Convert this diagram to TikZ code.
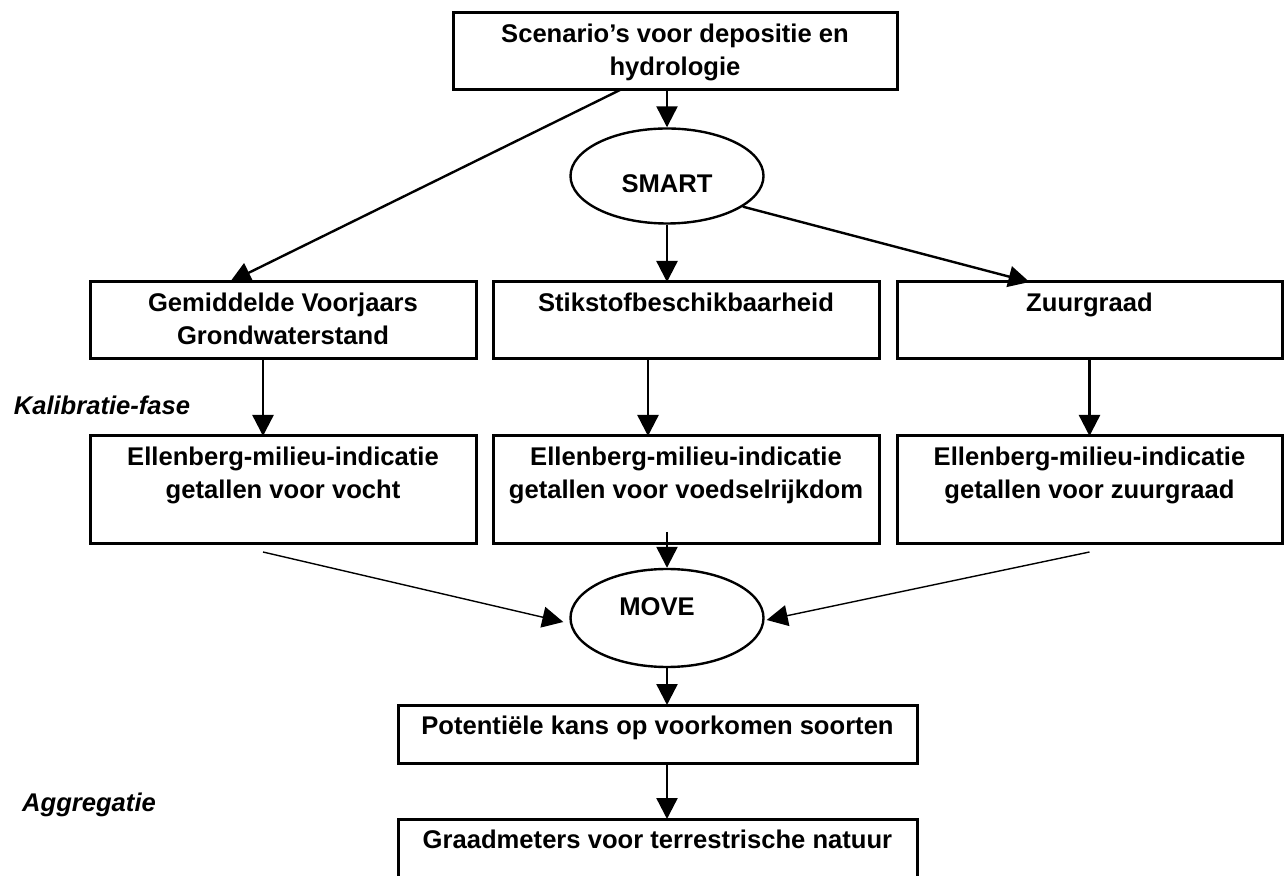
\documentclass[tikz,border=0pt]{standalone}
\usepackage{fontspec}
\setmainfont{Liberation Sans}
\usetikzlibrary{arrows.meta,shapes.geometric,calc}
\begin{document}
\begin{tikzpicture}[x=0.5pt,y=-0.5pt,
  boxst/.style={draw,line width=1.5pt,inner sep=0pt,outer sep=0pt,anchor=north west},
  txt/.style={font=\fontsize{12.8}{16.5}\selectfont\bfseries,align=center,inner sep=0pt,anchor=north},
  ell/.style={draw,ellipse,line width=1.2pt,inner sep=0pt,minimum width=96.5pt,minimum height=47.5pt},
  arr/.style={line width=1.2pt,-{Triangle[length=10.5pt,width=10.5pt]}},
  thinarr/.style={line width=0.7pt,-{Triangle[length=10.5pt,width=10.5pt]}},
  side/.style={font=\fontsize{12.8}{16.5}\selectfont\bfseries\itshape,inner sep=0pt}]

\useasboundingbox (0,0) rectangle (1285,876);

% boxes
\node[boxst,minimum width=222pt,minimum height=38.5pt] (top) at (453,13) {};
\node[boxst,minimum width=193pt,minimum height=38.5pt] (gem) at (90,282) {};
\node[boxst,minimum width=193pt,minimum height=38.5pt] (stik) at (493,282) {};
\node[boxst,minimum width=192.5pt,minimum height=38.5pt] (zuur) at (897,282) {};
\node[boxst,minimum width=193pt,minimum height=54pt] (ell1) at (90,436) {};
\node[boxst,minimum width=193pt,minimum height=54pt] (ell2) at (493,436) {};
\node[boxst,minimum width=192.5pt,minimum height=54pt] (ell3) at (897,436) {};
\node[boxst,minimum width=259.5pt,minimum height=29pt] (pot) at (398,705) {};
\node[boxst,minimum width=259.5pt,minimum height=29.5pt] (graad) at (398,819) {};

% ellipses
\node[ell] (smart) at (667,176) {};
\node[ell,minimum height=49pt] (move) at (667,618) {};

% texts
\node[txt] (toptxt) at ($(top.north)+(0,9)$) {\rule{0pt}{10pt}Scenario’s voor depositie en\\hydrologie};
\node[txt] (gemtxt) at ($(gem.north)+(0,9)$) {\rule{0pt}{10pt}Gemiddelde Voorjaars\\Grondwaterstand};
\node[txt] (stiktxt) at ($(stik.north)+(0,9)$) {\rule{0pt}{10pt}Stikstofbeschikbaarheid};
\node[txt] (zuurtxt) at ($(zuur.north)+(0,9)$) {\rule{0pt}{10pt}Zuurgraad};
\node[txt] (ell1txt) at ($(ell1.north)+(0,9)$) {\rule{0pt}{10pt}Ellenberg-milieu-indicatie\\getallen voor vocht};
\node[txt] (ell2txt) at ($(ell2.north)+(0,9)$) {\rule{0pt}{10pt}Ellenberg-milieu-indicatie\\getallen voor voedselrijkdom};
\node[txt] (ell3txt) at ($(ell3.north)+(0,9)$) {\rule{0pt}{10pt}Ellenberg-milieu-indicatie\\getallen voor zuurgraad};
\node[txt] (pottxt) at ($(pot.north)+(0,9)$) {\rule{0pt}{10pt}Potentiële kans op voorkomen soorten};
\node[txt] (graadtxt) at ($(graad.north)+(0,9)$) {\rule{0pt}{10pt}Graadmeters voor terrestrische natuur};
\node[txt,anchor=center] (smarttxt) at ($(smart)+(0,8)$) {SMART};
\node[txt,anchor=center] (movetxt) at ($(move)+(-10,-11)$) {MOVE};

% side labels
\node[side] (kal) at (102,405) {Kalibratie-fase};
\node[side] (agg) at (89,805) {Aggregatie};

% connectors
\draw[arr] (top.south -| smart.north) -- (smart.north);
\draw[arr] ($(top.south)+(-55,0)$) -- ($(gem.north)+(-53,0)$);
\draw[arr] (smart.south) -- (smart.south |- stik.north);
\draw[arr] (smart.-22) -- ($(zuur.north)+(-60,0)$);

\draw[arr] ($(gem.south)+(-20,0)$) -- ($(ell1.north)+(-20,0)$);
\draw[arr] ($(stik.south)+(-38,0)$) -- ($(ell2.north)+(-38,0)$);
\draw[arr] (zuur.south) -- (ell3.north);

\draw[thinarr] ($(ell1.south)+(-20,8)$) -- ($(move.west)+(-6,4)$);
\draw[thinarr] ($(ell3.south)+(0,8)$) -- ($(move.east)+(2,2)$);
\draw[arr] ($(ell2.south -| move.north)+(0,-12)$) -- (move.north);

\draw[arr] (move.south) -- (move.south |- pot.north);
\draw[arr] (pot.south -| move.south) -- (graad.north -| move.south);
\end{tikzpicture}
\end{document}
